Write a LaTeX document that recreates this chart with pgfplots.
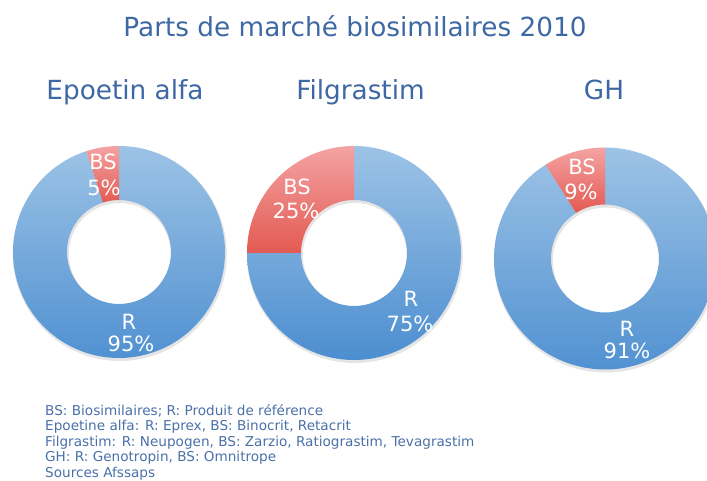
\documentclass[border=0pt]{standalone}
\usepackage{fontspec}
\setmainfont{DejaVu Sans}
\usepackage{pgfplots}
\pgfplotsset{compat=1.18}
\definecolor{titleblue}{HTML}{3E68A3}
\definecolor{noteblue}{HTML}{4A70A8}
\definecolor{bluetop}{HTML}{9DC3E6}
\definecolor{bluebot}{HTML}{4C8ED0}
\definecolor{redtop}{HTML}{F4A3A3}
\definecolor{redbot}{HTML}{E35A52}

% #1 cx, #2 cy, #3 outer radius, #4 inner radius, #5 share of BS (percent)
\newcommand{\donut}[5]{%
  \fill[black,opacity=0.10,even odd rule]
     ([shift={(0.8pt,-2pt)}]axis cs:#1,#2) circle[radius=#3pt+1pt]
     ([shift={(0.8pt,-2pt)}]axis cs:#1,#2) circle[radius=#4pt-1pt];
  \path[top color=bluetop,bottom color=bluebot]
     ([shift={({90+3.6*#5}:#3pt)}]axis cs:#1,#2)
     arc[start angle={90+3.6*#5},end angle=450,radius=#3pt]
     -- ([shift={(90:#4pt)}]axis cs:#1,#2)
     arc[start angle=450,end angle={90+3.6*#5},radius=#4pt] -- cycle;
  \path[top color=redtop,bottom color=redbot]
     ([shift={(90:#3pt)}]axis cs:#1,#2)
     arc[start angle=90,end angle={90+3.6*#5},radius=#3pt]
     -- ([shift={({90+3.6*#5}:#4pt)}]axis cs:#1,#2)
     arc[start angle={90+3.6*#5},end angle=90,radius=#4pt] -- cycle;
}

\begin{document}
\begin{tikzpicture}
\begin{axis}[
  x=1pt, y=1pt,
  xmin=0, xmax=707, ymin=0, ymax=481,
  hide axis, clip=true,
]
\coordinate (bl) at (axis cs:0,0);
\coordinate (tr) at (axis cs:707,481);

% donuts: centre x, centre y, outer r, inner r, BS share
\donut{119}{229}{106}{52}{5}
\donut{354}{228}{107}{53}{25}
\donut{605}{222.5}{111}{54}{9}

% slice labels
\begin{scope}[every node/.style={white,inner sep=0pt,anchor=base,font=\fontsize{21}{24}\selectfont}]
\node at (axis cs:103,311.5) {BS};
\node at (axis cs:104,285.5) {5\%};
\node at (axis cs:129,151.5) {R};
\node at (axis cs:131,129.5) {95\%};
\node at (axis cs:297,286.5) {BS};
\node at (axis cs:296,262.5) {25\%};
\node at (axis cs:411,174.5) {R};
\node at (axis cs:410,149.5) {75\%};
\node at (axis cs:582,306.5) {BS};
\node at (axis cs:581,281.5) {9\%};
\node at (axis cs:627,144.5) {R};
\node at (axis cs:627,122.5) {91\%};
\end{scope}

% titles
\node[titleblue,inner sep=0pt,anchor=base,font=\fontsize{26.3}{30}\selectfont] at (axis cs:355,444) {Parts de marché biosimilaires 2010};
\begin{scope}[every node/.style={titleblue,inner sep=0pt,anchor=base,font=\fontsize{26.3}{30}\selectfont}]
\node at (axis cs:125,381) {Epoetin alfa};
\node at (axis cs:360.5,381) {Filgrastim};
\node at (axis cs:604,381) {GH};
\end{scope}

% notes
\begin{scope}[every node/.style={noteblue,inner sep=0pt,anchor=base west,font=\fontsize{13.6}{16}\selectfont}]
\node at (axis cs:45,65.5) {BS: Biosimilaires; R: Produit de référence};
\node at (axis cs:45,50) {Epoetine alfa: R: Eprex, BS: Binocrit, Retacrit};
\node at (axis cs:45,34.5) {Filgrastim: R: Neupogen, BS: Zarzio, Ratiograstim, Tevagrastim};
\node at (axis cs:45,19) {GH: R: Genotropin, BS: Omnitrope};
\node at (axis cs:45,3.5) {Sources Afssaps};
\end{scope}
\end{axis}
\pgfresetboundingbox
\path[use as bounding box] (bl) rectangle (tr);
\end{tikzpicture}
\end{document}
